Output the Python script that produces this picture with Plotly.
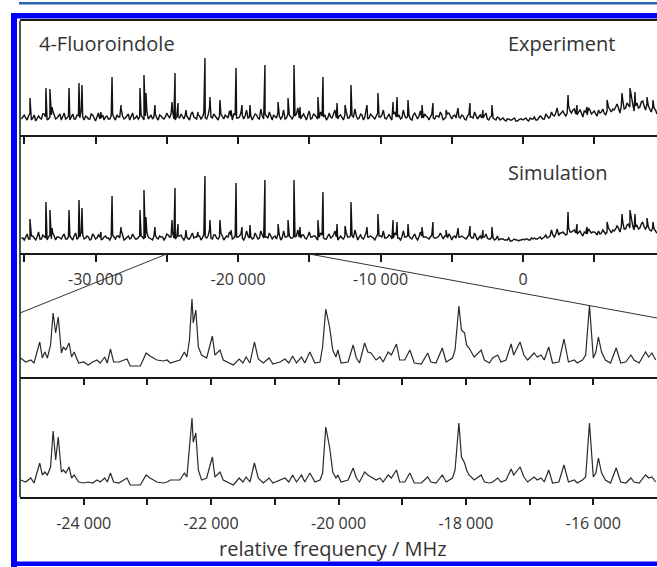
import numpy as np
import plotly.graph_objects as go

# ---------------- data ----------------
# Overview spectrum: strong lines (MHz, relative intensity)
ov_peak_freq = [-34600, -33480, -33200, -33050, -31860, -31160, -30950, -29620, -28840, -28210,
                -26880, -26600, -26460, -25830, -24630, -24420, -24210, -23650, -22810, -22320,
                -21970, -21270, -20490, -20140, -19720, -19160, -18110, -17190, -16490, -16070,
                -15650, -14390, -14040, -13050, -12490, -12070, -10950, -10180, -9120, -8840,
                -8070, -7090, -6320, -5400, -4560, -3720, -2810, -2180, 3160, 3790,
                4490, 5900, 6950, 7510, 7860, 8700, 9120]
exp_peak_int = [24, 34, 33, 15, 34, 39, 37, 10, 45, 17,
                34, 47, 29, 17, 20, 49, 19, 12, 10, 64,
                25, 22, 12, 54, 17, 17, 57, 20, 24, 57,
                15, 25, 45, 19, 17, 37, 17, 29, 20, 25,
                22, 17, 19, 12, 14, 19, 12, 17, 27, 17,
                15, 22, 29, 34, 30, 25, 22]
sim_peak_int = [23, 40, 32, 14, 32, 42, 34, 10, 46, 15,
                32, 52, 25, 15, 22, 54, 18, 12, 10, 66,
                22, 22, 12, 59, 15, 17, 62, 18, 22, 62,
                15, 22, 50, 18, 16, 40, 15, 28, 22, 20,
                18, 15, 20, 12, 14, 16, 12, 15, 30, 18,
                15, 20, 28, 32, 28, 24, 20]

# Overview spectrum: weak dense lines, one value every 200 MHz from -35200 MHz ...
grass_start = -35200
grass_step = 200
exp_grass = [3, 7, 2, 9, 4, 1, 6, 3, 8, 2, 5, 11, 3, 6, 2, 9,
             4, 2, 8, 3, 6, 12, 2, 5, 3, 7, 1, 9, 4, 2, 6, 3,
             8, 2, 5, 13, 3, 6, 2, 9, 4, 3, 7, 2, 11, 5, 3, 8,
             2, 6, 3, 9, 4, 12, 2, 5, 8, 3, 6, 2, 10, 4, 7, 3,
             9, 3, 14, 4, 6, 2, 8, 3, 5, 11, 2, 7, 4, 9, 3, 12,
             5, 2, 8, 4, 13, 3, 6, 10, 2, 5, 9, 3, 12, 4, 7, 3,
             6, 14, 3, 8, 2, 11, 4, 7, 3, 10, 5, 2, 9, 4, 12, 3,
             7, 2, 10, 4, 6, 13, 3, 8, 2, 11, 4, 6, 3, 9, 5, 12,
             3, 8, 2, 10, 5, 3, 12, 4, 7, 2, 9, 3, 11, 4, 6, 2,
             8, 3, 6, 10, 2, 5, 9, 3, 7, 11, 4, 6, 2, 8, 5, 10,
             3, 7, 4, 9, 2, 6, 3, 5, 2, 4, 1, 3, 2, 4, 1, 3,
             2, 4, 1, 3, 5, 2, 6, 3, 8, 4, 10, 6, 14, 8, 11, 6,
             16, 9, 13, 7, 12, 5, 10, 14, 8, 11, 6, 9, 13, 7, 15, 10,
             12, 18, 9, 22, 14, 17, 24, 11, 19, 15, 21, 12, 16, 10, 14, 8]
sim_grass = [4, 2, 8, 3, 6, 2, 10, 3, 5, 2, 7, 9, 2, 5, 3, 8,
             3, 6, 2, 9, 4, 10, 3, 6, 2, 8, 3, 7, 2, 5, 4, 2,
             7, 3, 6, 12, 2, 5, 3, 8, 3, 5, 6, 3, 10, 4, 2, 7,
             3, 5, 2, 8, 5, 10, 3, 6, 7, 2, 5, 3, 9, 5, 6, 2,
             8, 4, 12, 3, 7, 3, 9, 2, 6, 10, 3, 6, 5, 8, 2, 11,
             4, 3, 9, 3, 11, 4, 5, 9, 3, 6, 8, 2, 11, 5, 6, 4,
             5, 12, 4, 7, 3, 10, 5, 6, 2, 9, 4, 3, 8, 5, 11, 2,
             6, 3, 9, 5, 7, 12, 2, 7, 3, 10, 5, 5, 2, 8, 6, 11,
             4, 7, 3, 9, 4, 2, 11, 5, 6, 3, 8, 2, 10, 5, 5, 3,
             7, 4, 5, 9, 3, 6, 8, 2, 6, 10, 5, 5, 3, 7, 4, 9,
             2, 6, 5, 8, 3, 5, 2, 6, 3, 3, 2, 4, 1, 3, 2, 2,
             3, 3, 2, 4, 4, 3, 5, 4, 7, 5, 12, 5, 13, 9, 10, 7,
             14, 10, 12, 8, 11, 6, 9, 13, 9, 10, 7, 8, 12, 8, 14, 9,
             11, 16, 10, 20, 13, 18, 22, 12, 17, 14, 20, 13, 15, 11, 13, 9]
# ... and in between, every 200 MHz from -35100 MHz
grass_mid_start = -35100
exp_grass_mid = [5, 4, 6, 2, 7, 3, 4, 8, 5, 3, 7, 6, 4, 8, 5, 3,
                 6, 5, 3, 7, 4, 5, 6, 3, 8, 4, 5, 3, 7, 5, 3, 6,
                 4, 7, 5, 6, 4, 8, 5, 3, 6, 5, 4, 6, 3, 7, 5, 4,
                 7, 4, 5, 6, 8, 3, 6, 4, 5, 7, 4, 8, 5, 3, 6, 5,
                 4, 7, 5, 8, 3, 6, 5, 7, 4, 6, 8, 4, 5, 7, 6, 4,
                 6, 5, 7, 3, 6, 8, 4, 5, 7, 4, 6, 5, 3, 8, 5, 6,
                 8, 4, 6, 5, 7, 3, 8, 5, 4, 6, 7, 4, 5, 8, 4, 6,
                 5, 7, 4, 8, 5, 6, 4, 7, 5, 3, 8, 4, 6, 5, 7, 4,
                 6, 4, 8, 5, 7, 4, 6, 5, 3, 7, 5, 6, 4, 8, 5, 6,
                 4, 6, 5, 7, 4, 8, 5, 6, 4, 5, 7, 3, 6, 5, 4, 6,
                 5, 4, 6, 3, 5, 4, 2, 4, 3, 2, 3, 2, 3, 1, 2, 3,
                 3, 2, 4, 3, 2, 4, 5, 3, 6, 5, 7, 9, 6, 10, 8, 9,
                 11, 12, 8, 10, 9, 11, 7, 12, 10, 8, 12, 10, 9, 11, 12, 13,
                 15, 14, 16, 13, 19, 15, 18, 16, 14, 20, 16, 18, 13, 15, 12]
sim_grass_mid = [4, 5, 3, 6, 4, 5, 3, 7, 4, 5, 3, 6, 5, 4, 6, 3,
                 5, 4, 6, 3, 5, 7, 4, 5, 3, 6, 4, 5, 3, 6, 4, 5,
                 5, 6, 4, 7, 3, 6, 4, 5, 3, 6, 5, 4, 5, 3, 6, 4,
                 6, 5, 4, 7, 5, 4, 5, 6, 4, 5, 3, 7, 4, 5, 6, 4,
                 5, 6, 4, 7, 4, 5, 6, 4, 5, 7, 4, 5, 6, 4, 5, 6,
                 5, 4, 6, 4, 7, 5, 4, 6, 5, 3, 7, 4, 5, 6, 4, 5,
                 6, 5, 7, 4, 6, 5, 6, 4, 5, 7, 3, 6, 4, 7, 5, 4,
                 4, 6, 5, 6, 4, 7, 5, 4, 6, 5, 6, 4, 5, 6, 5, 4,
                 5, 6, 4, 7, 4, 5, 5, 6, 4, 6, 4, 5, 6, 5, 4, 5,
                 5, 4, 6, 5, 6, 4, 6, 5, 4, 5, 6, 4, 5, 6, 4, 5,
                 4, 3, 5, 4, 3, 4, 3, 2, 3, 2, 2, 1, 2, 2, 1, 2,
                 2, 3, 2, 3, 3, 4, 3, 5, 4, 6, 7, 8, 7, 9, 8, 8,
                 10, 11, 9, 10, 8, 10, 8, 11, 10, 9, 11, 9, 10, 10, 11, 12,
                 13, 14, 15, 13, 17, 14, 16, 15, 13, 18, 15, 16, 12, 14, 11]

# Expanded region -25 000 ... -15 000 MHz: spectrum vertices
zoom_freq = [-24990, -24910, -24830, -24780, -24690, -24650, -24610, -24570, -24520, -24480,
             -24440, -24400, -24350, -24320, -24280, -24230, -24190, -24150, -24080, -24000,
             -23930, -23860, -23790, -23740, -23670, -23630, -23580, -23530, -23450, -23320,
             -23270, -23110, -23020, -22960, -22850, -22750, -22690, -22640, -22490, -22420,
             -22380, -22340, -22300, -22280, -22240, -22200, -22150, -22070, -21980, -21940,
             -21860, -21810, -21650, -21560, -21500, -21450, -21390, -21320, -21260, -21180,
             -21090, -21030, -20920, -20840, -20780, -20720, -20660, -20580, -20530, -20450,
             -20370, -20290, -20250, -20200, -20140, -20090, -20040, -20010, -19960, -19850,
             -19770, -19720, -19670, -19590, -19540, -19490, -19410, -19350, -19300, -19220,
             -19170, -19090, -19040, -18960, -18880, -18810, -18700, -18600, -18550, -18470,
             -18370, -18310, -18210, -18170, -18110, -18070, -18020, -17990, -17950, -17870,
             -17760, -17710, -17630, -17580, -17500, -17450, -17370, -17290, -17250, -17150,
             -17090, -17030, -16930, -16880, -16820, -16770, -16700, -16640, -16540, -16460,
             -16390, -16300, -16250, -16170, -16120, -16060, -16000, -15960, -15920, -15870,
             -15810, -15730, -15640, -15570, -15490, -15410, -15360, -15280, -15180, -15130,
             -15080, -15020]
zoom_exp = [8, 4, 6, 3, 24, 8, 14, 8, 21, 53,
            33, 49, 13, 19, 16, 23, 9, 14, 3, 4,
            1, 4, 6, 3, 9, 3, 17, 4, 4, 7,
            0, 0, 13, 10, 6, 5, 6, 3, 6, 14,
            9, 26, 67, 43, 56, 19, 11, 8, 30, 11,
            16, 6, 1, 7, 3, 9, 3, 24, 7, 3,
            8, 2, 4, 7, 3, 10, 3, 9, 3, 14,
            3, 4, 19, 57, 39, 16, 9, 16, 3, 4,
            21, 8, 3, 23, 14, 13, 6, 9, 4, 14,
            11, 22, 6, 6, 16, 3, 2, 13, 4, 3,
            18, 4, 8, 16, 60, 36, 33, 21, 18, 9,
            16, 6, 3, 8, 11, 4, 6, 22, 11, 24,
            11, 6, 13, 9, 11, 6, 19, 3, 4, 27,
            4, 6, 3, 6, 11, 61, 8, 14, 29, 14,
            6, 3, 18, 3, 4, 11, 6, 3, 14, 9,
            13, 6]
zoom_sim = [5, 3, 7, 2, 22, 10, 13, 10, 18, 54,
            25, 48, 13, 15, 12, 18, 7, 10, 3, 2,
            3, 2, 5, 3, 7, 3, 12, 3, 2, 7,
            0, 0, 10, 7, 3, 2, 3, 5, 5, 12,
            8, 35, 67, 43, 52, 15, 5, 7, 28, 8,
            13, 5, 0, 7, 3, 8, 3, 22, 7, 2,
            7, 2, 5, 7, 3, 10, 3, 10, 3, 12,
            3, 5, 12, 58, 38, 13, 7, 10, 3, 5,
            17, 7, 3, 13, 10, 8, 5, 7, 3, 10,
            7, 15, 3, 3, 12, 2, 2, 8, 3, 2,
            10, 3, 7, 15, 62, 28, 22, 15, 10, 5,
            10, 3, 2, 3, 7, 3, 5, 16, 10, 18,
            8, 3, 8, 5, 7, 3, 15, 2, 3, 20,
            3, 5, 2, 5, 8, 62, 8, 12, 27, 12,
            5, 2, 17, 3, 2, 7, 3, 2, 10, 7,
            8, 3]

ov_tickvals = [-35000, -30000, -25000, -20000, -15000, -10000, -5000, 0, 5000]
ov_ticktext = ["", "-30 000", "", "-20 000", "", "-10 000", "", "0", ""]
zm_tickvals = [-24000, -23000, -22000, -21000, -20000, -19000, -18000, -17000, -16000]
zm_ticktext = ["-24 000", "", "-22 000", "", "-20 000", "", "-18 000", "", "-16 000"]

# ---------------- layout helpers ----------------
W, H = 657, 567


def px(p):
    return p / W


def py(p):
    return 1 - p / H


OV_RANGE = [-35300, 9404]
ZM_RANGE = [-25000, -15000]
INK = "#111111"
TXT = "#333333"
FONT = "Open Sans"

grass_freq = grass_start + grass_step * np.arange(len(exp_grass))
grass_mid_freq = grass_mid_start + grass_step * np.arange(len(exp_grass_mid))


def merged(grass, grass_mid, peak_int):
    xs = np.concatenate([grass_freq, grass_mid_freq, np.array(ov_peak_freq)])
    ys = np.concatenate([np.array(grass), np.array(grass_mid), np.array(peak_int)])
    order = np.argsort(xs, kind="stable")
    return xs[order], ys[order]


fig = go.Figure()
ex_x, ex_y = merged(exp_grass, exp_grass_mid, exp_peak_int)
si_x, si_y = merged(sim_grass, sim_grass_mid, sim_peak_int)
line = dict(color=INK, width=1.4)
fig.add_trace(go.Scatter(x=ex_x, y=ex_y, mode="lines", line=line, xaxis="x", yaxis="y", hoverinfo="skip"))
fig.add_trace(go.Scatter(x=si_x, y=si_y, mode="lines", line=line, xaxis="x2", yaxis="y2", hoverinfo="skip"))
zline = dict(color="#2a2a2a", width=1.2)
fig.add_trace(go.Scatter(x=zoom_freq, y=zoom_exp, mode="lines", line=zline, xaxis="x3", yaxis="y3", hoverinfo="skip"))
fig.add_trace(go.Scatter(x=zoom_freq, y=zoom_sim, mode="lines", line=zline, xaxis="x4", yaxis="y4", hoverinfo="skip"))

xdom = [px(20), 1]
tickfont = dict(family=FONT, size=16, color=TXT)
common_x = dict(domain=xdom, showgrid=False, zeroline=False, showline=True, linecolor="#1a1a1a",
                linewidth=1.5, ticks="outside", tickcolor="#1a1a1a", tickwidth=1.5, tickfont=tickfont,
                fixedrange=True)

fig.update_layout(
    width=W, height=H, autosize=False,
    margin=dict(l=0, r=0, t=0, b=0, pad=0),
    paper_bgcolor="white", plot_bgcolor="rgba(0,0,0,0)",
    showlegend=False,
    xaxis=dict(**common_x, range=OV_RANGE, anchor="y", mirror=True, tickvals=ov_tickvals,
               ticktext=ov_ticktext, ticklen=7, showticklabels=False),
    xaxis2=dict(**common_x, range=OV_RANGE, anchor="y2", tickvals=ov_tickvals,
                ticktext=ov_ticktext, ticklen=7, ticklabelstandoff=4),
    xaxis3=dict(**common_x, range=ZM_RANGE, anchor="y3", tickvals=zm_tickvals,
                ticktext=zm_ticktext, ticklen=6, showticklabels=False),
    xaxis4=dict(**common_x, range=ZM_RANGE, anchor="y4", tickvals=zm_tickvals,
                ticktext=zm_ticktext, ticklen=6, ticklabelstandoff=5),
    yaxis=dict(domain=[py(135), py(21)], range=[-13, 101], visible=False, fixedrange=True),
    yaxis2=dict(domain=[py(253), py(135)], range=[-11, 107], visible=False, fixedrange=True),
    yaxis3=dict(domain=[py(377), py(290)], range=[-11, 76], visible=False, fixedrange=True),
    yaxis4=dict(domain=[py(497), py(377)], range=[-12, 108], visible=False, fixedrange=True),
)

shapes = [
    # left frame line of the stacked panels
    dict(type="line", xref="paper", yref="paper", x0=px(20), x1=px(20), y0=py(497), y1=py(21),
         line=dict(color="#1a1a1a", width=1.5)),
    # connector lines from the overview axis to the expanded region
    dict(type="line", xref="x2", yref="paper", x0=ZM_RANGE[0], y0=py(254), x1=OV_RANGE[0], y1=py(313),
         line=dict(color="#333333", width=1)),
    dict(type="line", xref="x2", yref="paper", x0=ZM_RANGE[1], y0=py(254), x1=OV_RANGE[1], y1=py(318),
         line=dict(color="#333333", width=1)),
    # blue page frame
    dict(type="rect", xref="paper", yref="paper", x0=px(19), x1=1, y0=py(4.5), y1=py(2),
         fillcolor="#2763b0", line=dict(width=0)),
    dict(type="rect", xref="paper", yref="paper", x0=px(11), x1=1, y0=py(18.5), y1=py(13),
         fillcolor="#0000ff", line=dict(width=0)),
    dict(type="rect", xref="paper", yref="paper", x0=px(11), x1=px(17), y0=0, y1=py(13),
         fillcolor="#0000ff", line=dict(width=0)),
    dict(type="rect", xref="paper", yref="paper", x0=px(11), x1=1, y0=py(566), y1=py(561.5),
         fillcolor="#0000ff", line=dict(width=0)),
]
fig.update_layout(shapes=shapes)

labfont = dict(family=FONT, size=20, color=TXT)
fig.add_annotation(text="4-Fluoroindole", xref="paper", yref="paper", x=px(37), y=py(43),
                   xanchor="left", yanchor="middle", showarrow=False, font=labfont)
fig.add_annotation(text="Experiment", xref="paper", yref="paper", x=px(617), y=py(43),
                   xanchor="right", yanchor="middle", showarrow=False, font=labfont)
fig.add_annotation(text="Simulation", xref="paper", yref="paper", x=px(609), y=py(172),
                   xanchor="right", yanchor="middle", showarrow=False, font=labfont)
fig.add_annotation(text="relative frequency / MHz", xref="paper", yref="paper", x=px(333), y=py(548),
                   xanchor="center", yanchor="middle", showarrow=False, font=labfont)

# page body without default margins so the 657x567 figure fills the window exactly
fig.write_html("out.html", config={"displayModeBar": False},
               post_script="document.body.style.margin='0px';document.body.style.overflow='hidden';")
